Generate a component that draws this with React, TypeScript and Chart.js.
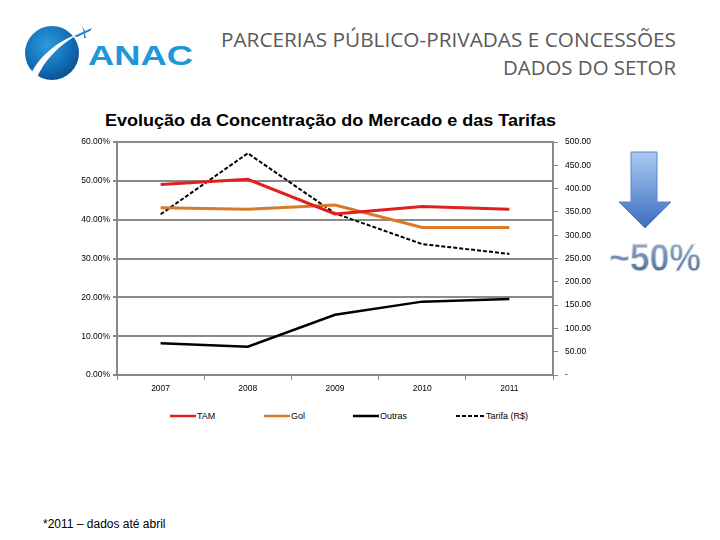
import React, { useEffect, useRef } from 'react';
import { Chart, registerables } from 'chart.js';

Chart.register(...registerables);

const categories = ['2007', '2008', '2009', '2010', '2011'];
const tam = [49.1, 50.4, 41.5, 43.4, 42.7];
const gol = [43.1, 42.7, 43.8, 38.0, 38.0];
const outras = [8.2, 7.3, 15.5, 18.9, 19.6];
const tarifa = [345, 476, 347, 281, 260];

const seriesNames = ['TAM', 'Gol', 'Outras', 'Tarifa (R$)'];
const seriesColors = ['#e0201e', '#d97a2b', '#000000', '#000000'];

const FONT = '"Liberation Sans", Arial, sans-serif';

export default function App() {
  const ref = useRef<HTMLCanvasElement>(null);

  useEffect(() => {
    if (!ref.current) return;
    const tickFont = { family: FONT, size: 8.5 };
    const chart = new Chart(ref.current, {
      type: 'line',
      data: {
        labels: categories,
        datasets: [
          { label: seriesNames[0], data: tam, borderColor: seriesColors[0], borderWidth: 3, pointRadius: 0, yAxisID: 'y', tension: 0 },
          { label: seriesNames[1], data: gol, borderColor: seriesColors[1], borderWidth: 3, pointRadius: 0, yAxisID: 'y', tension: 0 },
          { label: seriesNames[2], data: outras, borderColor: seriesColors[2], borderWidth: 2.5, pointRadius: 0, yAxisID: 'y', tension: 0 },
          { label: seriesNames[3], data: tarifa, borderColor: seriesColors[3], borderWidth: 2, borderDash: [4, 2], pointRadius: 0, yAxisID: 'y1', tension: 0 },
        ],
      },
      options: {
        animation: false,
        responsive: false,
        maintainAspectRatio: false,
        layout: { padding: { top: 12, bottom: 0, left: 0, right: 0 } },
        plugins: {
          legend: { display: false },
          tooltip: { enabled: false },
          title: { display: false },
        },
        scales: {
          x: {
            offset: true,
            grid: { offset: true, drawOnChartArea: false, color: '#888', lineWidth: 1, tickLength: 5 },
            border: { color: '#888', width: 2 },
            ticks: { font: tickFont, color: '#000', padding: 4, maxRotation: 0 },
            afterFit: (s: any) => { s.height = 30; },
          },
          y: {
            position: 'left',
            min: 0,
            max: 60,
            ticks: { stepSize: 10, font: tickFont, color: '#000', padding: 3, callback: (v: any) => Number(v).toFixed(2) + '%' },
            grid: { color: '#8a8a8a', lineWidth: 2, tickLength: 4 },
            border: { color: '#888', width: 2 },
            afterFit: (s: any) => { s.width = 77; },
          },
          y1: {
            position: 'right',
            min: 0,
            max: 500,
            ticks: { stepSize: 50, font: tickFont, color: '#000', padding: 7, callback: (v: any) => (Number(v) === 0 ? '-' : Number(v).toFixed(2)) },
            grid: { drawOnChartArea: false, color: '#888', lineWidth: 1, tickLength: 5 },
            border: { color: '#888', width: 2 },
            afterFit: (s: any) => { s.width = 57; },
          },
        },
      },
    });
    return () => chart.destroy();
  }, []);

  const legendX = [170, 264, 353, 456];

  return (
    <div style={{ position: 'absolute', left: 0, top: 0, width: 720, height: 540, background: '#fff', overflow: 'hidden' }}>
      <svg width={720} height={540} style={{ position: 'absolute', left: 0, top: 0 }}>
        <defs>
          <radialGradient id="globe" cx="0.4" cy="0.35" r="0.7">
            <stop offset="0" stopColor="#2d9be0" />
            <stop offset="0.6" stopColor="#1470b8" />
            <stop offset="1" stopColor="#0a4f8f" />
          </radialGradient>
          <linearGradient id="arrowG" x1="0" y1="0" x2="0" y2="1">
            <stop offset="0" stopColor="#abcaf3" />
            <stop offset="1" stopColor="#3b6dbd" />
          </linearGradient>
          <linearGradient id="pctG" x1="0" y1="0" x2="0" y2="1">
            <stop offset="0" stopColor="#a3b5d0" />
            <stop offset="1" stopColor="#46638f" />
          </linearGradient>
        </defs>
        {/* Logo */}
        <circle cx={52} cy={53} r={27} fill="url(#globe)" />
        <path d="M30 76 C 38 58, 55 42, 80 33 C 58 46, 44 60, 36 80 Z" fill="#ffffff" />
        <path d="M74 36 L92 28 L90 31 L77 37 Z" fill="#2a7fc0" />
        <path d="M82 26 L86 33 L84 33 Z" fill="#2a7fc0" />
        <path d="M84 31 L86 38 L84 38 Z" fill="#2a7fc0" />
        <text x={88} y={65} fontFamily={FONT} fontWeight="bold" fontSize={28} fill="#2196d8" textLength={105} lengthAdjust="spacingAndGlyphs">ANAC</text>
        {/* Slide title */}
        <text x={221} y={47} fontFamily={'"Open Sans", sans-serif'} fontSize={20} fill="#5a5a5a" textLength={455} lengthAdjust="spacingAndGlyphs">PARCERIAS PÚBLICO-PRIVADAS E CONCESSÕES</text>
        <text x={503} y={75} fontFamily={'"Open Sans", sans-serif'} fontSize={20} fill="#5a5a5a" textLength={173} lengthAdjust="spacingAndGlyphs">DADOS DO SETOR</text>
        {/* Chart title */}
        <text x={105} y={126} fontFamily={FONT} fontWeight="bold" fontSize={16} fill="#000" textLength={451} lengthAdjust="spacingAndGlyphs">Evolução da Concentração do Mercado e das Tarifas</text>
        {/* Arrow */}
        <path d="M631 152 L657 152 L657 202 L671 202 L645 228 L619 202 L631 202 Z" fill="url(#arrowG)" stroke="#5a86c8" strokeWidth={1} />
        <text x={609} y={271} fontFamily={FONT} fontWeight="bold" fontSize={39} fill="url(#pctG)" stroke="#e8eef6" strokeWidth={0.8} textLength={92} lengthAdjust="spacingAndGlyphs">~50%</text>
        {/* Footnote */}
        <text x={43} y={528} fontFamily={FONT} fontSize={12} fill="#000">*2011 – dados até abril</text>
        {/* Legend */}
        {seriesNames.map((name, i) => (
          <g key={name}>
            <line x1={legendX[i]} y1={416} x2={legendX[i] + (i === 3 ? 29 : 26)} y2={416} stroke={seriesColors[i]} strokeWidth={i === 3 ? 2 : 2.5} strokeDasharray={i === 3 ? '4 2' : undefined} />
            <text x={legendX[i] + (i === 3 ? 30 : 27)} y={419} fontFamily={FONT} fontSize={9} fill="#000">{name}</text>
          </g>
        ))}
      </svg>
      <canvas ref={ref} width={570} height={275} style={{ position: 'absolute', left: 40, top: 130, width: 570, height: 275 }} />
    </div>
  );
}
